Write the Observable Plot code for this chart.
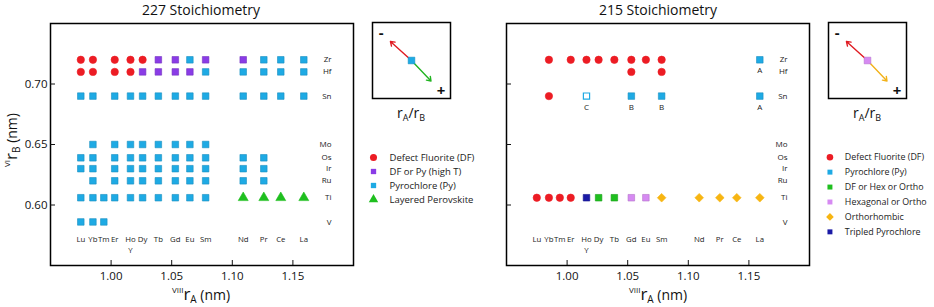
<!DOCTYPE html>
<html><head><meta charset="utf-8">
<script src="https://cdn.jsdelivr.net/npm/d3@7"></script>
<script src="https://cdn.jsdelivr.net/npm/@observablehq/plot@0.6"></script>
<style>
body{margin:0;background:#fff;font-family:"Open Sans",sans-serif;color:#111;}
#root{position:relative;width:934px;height:307px;overflow:hidden;background:#fff;}
.abs{position:absolute;}
.title{font-size:14px;transform:translateX(-50%);white-space:nowrap;}
.axlab{font-size:14px;white-space:nowrap;transform:translateX(-50%);}
.axlab .r{font-size:17px;}
.axlab sup{font-size:8px;vertical-align:7px;}
.axlab sub{font-size:10px;vertical-align:-3px;}
.ylab{transform:translate(-50%,-50%) rotate(-90deg);}
.ratio{font-size:14px;transform:translateX(-50%);white-space:nowrap;}
.ratio sub{font-size:9px;vertical-align:-3px;}
</style></head><body><div id="root"></div><script>
// ---- data ----
const aLabels = ["Lu","Yb","Tm","Er","Ho","Dy","Tb","Gd","Eu","Sm","Nd","Pr","Ce","La"];
const aRadii  = [0.975,0.985,0.994,1.003,1.016,1.026,1.039,1.053,1.065,1.078,1.109,1.126,1.140,1.159];
const aExtraLabel = "Y";      // shares the Ho column
const bLabels = ["Zr","Hf","Sn","Mo","Os","Ir","Ru","Ti","V"];
const bRadii  = [0.720,0.710,0.690,0.650,0.639,0.630,0.620,0.606,0.586];
const xTicks = [1.00,1.05,1.10,1.15];
const yTicks = [0.60,0.65,0.70];

// 227: D = defect fluorite, H = DF or Py (high T), P = pyrochlore, L = layered perovskite, . = none
const p227Zr = ["D","D",".","D","D","D","H","H","P","H","H","P","P","P"];
const p227Hf = ["D","D",".","D","D","H","H","H","H","P","P","P","P","P"];
const p227Sn = ["P","P",".","P","P","P","P","P","P","P","P","P","P","P"];
const p227Mo = [".","P",".","P","P","P","P","P","P","P",".",".",".","."];
const p227Os = ["P","P",".","P","P","P","P","P","P","P","P","P",".","."];
const p227Ir = ["P","P",".","P","P","P","P","P","P","P","P","P",".","."];
const p227Ru = [".","P",".","P","P","P","P","P","P","P","P","P",".","."];
const p227Ti = ["P","P","P","P","P","P","P","P","P","P","L","L","L","L"];
const p227V  = ["P","P","P",".",".",".",".",".",".",".",".",".",".","."];

// 215: D = DF, P = Py, O = Py (open), G = DF or Hex or Ortho, K = Hex or Ortho, R = Ortho, T = tripled Py
const p215Zr = [".","D",".","D","D","D","D","D","D","D",".",".",".","P"];
const p215Hf = [".",".",".",".",".",".",".","D",".","D",".",".",".","."];
const p215Sn = [".","D",".",".","O",".",".","P",".","P",".",".",".","P"];
const p215Mo = [".",".",".",".",".",".",".",".",".",".",".",".",".","."];
const p215Os = p215Mo, p215Ir = p215Mo, p215Ru = p215Mo, p215V = p215Mo;
const p215Ti = ["D","D","D","D","T","G","G","K","K","R","R","R","R","R"];

const notes215A    = ["La","Ho","Gd","Sm","La"];
const notes215B    = ["Zr","Sn","Sn","Sn","Sn"];
const notes215Text = ["A","C","B","B","A"];

const codes227   = ["D","H","P","L"];
const names227   = ["Defect Fluorite (DF)","DF or Py (high T)","Pyrochlore (Py)","Layered Perovskite"];
const symbols227 = ["circle","square","square","triangle"];
const colors227  = ["#ec1c24","#8a3ce6","#1eaae4","#1fbf1f"];

const codes215   = ["D","P","G","K","R","T"];
const names215   = ["Defect Fluorite (DF)","Pyrochlore (Py)","DF or Hex or Ortho","Hexagonal or Ortho","Orthorhombic","Tripled Pyrochlore"];
const symbols215 = ["circle","square","square","square","diamond2","square"];
const colors215  = ["#ec1c24","#1eaae4","#1fbf1f","#d68af2","#f7b512","#1a1aa6"];

// inset arrows (direction of rA/rB)
const insetEnds = ["minus","plus"];
const insetX2 = [0.23,0.75];
const insetY2 = [0.75,0.23];
const insetSigns = ["-","+"];
const insetSignX = [0.11,0.88];
const insetSignY = [0.86,0.10];

// ---- build ----
const root = document.getElementById("root");
function place(el, left, top){ const d=document.createElement("div"); d.className="abs"; d.style.left=left+"px"; d.style.top=top+"px"; d.appendChild(el); root.appendChild(d); return d; }
function html(s, left, top, cls){ const d=document.createElement("div"); d.className="abs "+(cls||""); d.style.left=left+"px"; d.style.top=top+"px"; d.innerHTML=s; root.appendChild(d); return d; }

function table(rows){
  const out=[];
  rows.forEach((row,j)=>row.forEach((c,i)=>{ if(c!==".") out.push({a:aLabels[i],x:aRadii[i],b:bLabels[j],y:bRadii[j],c}); }));
  return out;
}
const rows227 = table([p227Zr,p227Hf,p227Sn,p227Mo,p227Os,p227Ir,p227Ru,p227Ti,p227V]);
const rows215 = table([p215Zr,p215Hf,p215Sn,p215Mo,p215Os,p215Ir,p215Ru,p215Ti,p215V]);
const notes215 = notes215A.map((a,i)=>({x:aRadii[aLabels.indexOf(a)], y:bRadii[bLabels.indexOf(notes215B[i])], t:notes215Text[i]}));

function dotSize(sym){ return sym==="triangle"?3.7:sym==="diamond2"?3.9:3.7; }
function darker(c){ return d3.color(c).darker(0.5).formatHex(); }

function mainPlot(rows, codes, symbols, colors, yLabels, extra){
  const marks = [
    Plot.frame({stroke:"#000", strokeWidth:1.5}),
    Plot.axisX({ticks:xTicks, tickFormat:d3.format(".2f"), tickSize:-5, tickPadding:11, fontSize:11.5, label:null}),
    Plot.axisY({ticks:yTicks, tickFormat: yLabels ? d3.format(".2f") : ()=>"", tickSize:-5, tickPadding:8, fontSize:11.5, label:null}),
    Plot.text(bLabels, {y:(d,i)=>bRadii[i], text:d=>d, frameAnchor:"right", dx:-22, fontSize:8, fill:"#222"}),
    Plot.text(aLabels, {x:(d,i)=>aRadii[i], text:d=>d, frameAnchor:"bottom", dy:-24, fontSize:7.8, fill:"#222"}),
    Plot.text([aExtraLabel], {x:()=>aRadii[aLabels.indexOf("Ho")], text:d=>d, frameAnchor:"bottom", dy:-13, fontSize:7.8, fill:"#222"})
  ];
  codes.forEach((c,i)=>{
    marks.push(Plot.dot(rows.filter(d=>d.c===c), {x:"x", y:"y", symbol:symbols[i], r:dotSize(symbols[i]), fill:colors[i], stroke: symbols[i]==="square"?darker(colors[i]):colors[i], strokeWidth:0.6}));
  });
  if(extra) marks.push(...extra);
  return Plot.plot({
    width:360, height:307, marginLeft:50, marginRight:7, marginTop:23, marginBottom:42,
    x:{domain:[0.95,1.20]}, y:{domain:[0.55,0.75]},
    style:{fontFamily:"Open Sans", background:"transparent", overflow:"visible", color:"#111"},
    marks
  });
}

const left = mainPlot(rows227, codes227, symbols227, colors227, true);
const right = mainPlot(rows215, codes215, symbols215, colors215, false, [
  Plot.dot(rows215.filter(d=>d.c==="O"), {x:"x", y:"y", symbol:"square", r:3.5, fill:"#fff", stroke:"#1eaae4", strokeWidth:1.2}),
  Plot.text(notes215, {x:"x", y:"y", text:"t", dy:11, fontSize:8, fill:"#222"})
]);
place(left, 0, 0);
place(right, 456, 0);

html("227 Stoichiometry", 201, 0, "title");
html("215 Stoichiometry", 658, 0, "title");
html('<sup>VIII</sup><span class="r">r</span><sub>A</sub> (nm)', 201, 282, "axlab");
html('<sup>VIII</sup><span class="r">r</span><sub>A</sub> (nm)', 658, 282, "axlab");
html('<sup>VI</sup><span class="r">r</span><sub>B</sub> (nm)', 11, 140, "axlab ylab");

function inset(color2, centerColor){
  return Plot.plot({
    width:78, height:76, margin:0,
    x:{domain:[0,1], axis:null}, y:{domain:[0,1], axis:null},
    style:{fontFamily:"Open Sans", background:"transparent", overflow:"visible"},
    marks:[
      Plot.frame({stroke:"#000", strokeWidth:1.5}),
      Plot.arrow(insetEnds, {x1:()=>0.5, y1:()=>0.5, x2:(d,i)=>insetX2[i], y2:(d,i)=>insetY2[i], stroke:(d,i)=>i===0?"#e01b22":color2, strokeWidth:1.4, headLength:5, headAngle:70}),
      Plot.dot([0], {x:()=>0.5, y:()=>0.5, symbol:"square", r:3.8, fill:centerColor, stroke:darker(centerColor), strokeWidth:0.5}),
      Plot.text(insetSigns, {x:(d,i)=>insetSignX[i], y:(d,i)=>insetSignY[i], text:d=>d, fontSize:15, fontWeight:"bold", fill:"#111"})
    ]
  });
}
place(inset("#22b422", "#1eaae4"), 372, 22);
place(inset("#f2b21a", "#d68af2"), 828, 22);
html('r<sub>A</sub>/r<sub>B</sub>', 411, 103, "ratio");
html('r<sub>A</sub>/r<sub>B</sub>', 867, 103, "ratio");

function legend(names, symbols, colors){
  return Plot.plot({
    width:120, height: 19.5*names.length, margin:0,
    y:{type:"point", domain:names, range:[10, 19.5*names.length-10], axis:null},
    style:{fontFamily:"Open Sans", background:"transparent", overflow:"visible"},
    marks:[
      ...names.map((n,i)=>Plot.dot([n], {y:d=>d, frameAnchor:"left", dx:8, symbol:symbols[i], r:symbols[i]==="square"?3:dotSize(symbols[i])*0.95, fill:colors[i]})),
      Plot.text(names, {y:d=>d, text:d=>d, frameAnchor:"left", dx:24, textAnchor:"start", fontSize:9.5, fill:"#222"})
    ]
  });
}
place(legend(names227, symbols227, colors227), 365, 139);
place(legend(names215, symbols215, colors215), 822, 139);
</script></body></html>
